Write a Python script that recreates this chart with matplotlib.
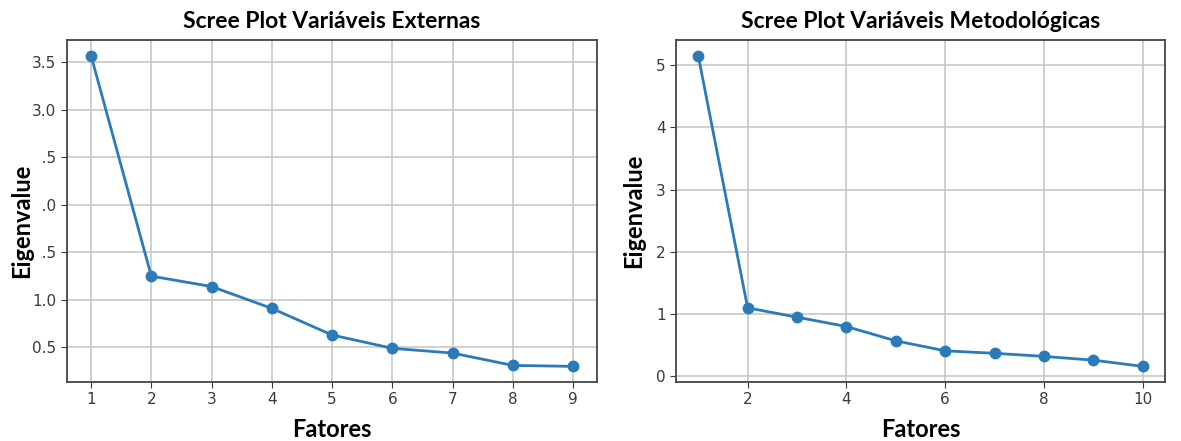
import matplotlib
matplotlib.use("Agg")
import matplotlib.pyplot as plt
from matplotlib.patches import Rectangle

# eigenvalues per factor
fatores_ext = [1, 2, 3, 4, 5, 6, 7, 8, 9]
eig_ext = [3.57, 1.25, 1.14, 0.91, 0.63, 0.49, 0.44, 0.31, 0.30]

fatores_met = [1, 2, 3, 4, 5, 6, 7, 8, 9, 10]
eig_met = [5.15, 1.10, 0.95, 0.80, 0.57, 0.41, 0.37, 0.32, 0.26, 0.16]

titles = ["Scree Plot Variáveis Externas", "Scree Plot Variáveis Metodológicas"]

LABEL_FONT = dict(family="Lato", fontweight="bold", color="black")
LINE_COLOR = "#2b7bba"
W, H = 1181, 441

fig = plt.figure(figsize=(W / 100, H / 100), dpi=100)
ax1 = fig.add_axes([0.0567, 0.134, 0.449, 0.775])
ax2 = fig.add_axes([0.5724, 0.134, 0.4140, 0.775])

for ax, xs, ys, title in [(ax1, fatores_ext, eig_ext, titles[0]),
                          (ax2, fatores_met, eig_met, titles[1])]:
    ax.plot(xs, ys, color=LINE_COLOR, lw=2, marker="o", ms=7.5)
    ax.grid(color="#c8c8c8", lw=1.2)
    ax.set_axisbelow(True)
    ax.tick_params(labelsize=11, colors="#3a3a3a", length=4)
    for s in ax.spines.values():
        s.set_color("#444444")
        s.set_linewidth(1.3)
    ax.set_title(title, fontsize=16.5, pad=9, **LABEL_FONT)
    ax.set_xlabel("Fatores", fontsize=17, labelpad=8, **LABEL_FONT)

ax1.set_xticks(fatores_ext)
ax2.set_xticks([2, 4, 6, 8, 10])
ax1.set_yticks([0.5, 1.0, 1.5, 2.0, 2.5, 3.0, 3.5])

# left label sits over part of the tick labels on a white block
fig.patches.append(Rectangle((4 / W, 1 - 290 / H), 37 / W, 160 / H, transform=fig.transFigure,
                             facecolor="white", edgecolor="none", zorder=3))
fig.text(22 / W, 1 - 221 / H, "Eigenvalue", rotation=90, ha="center", va="center",
         fontsize=17, zorder=4, **LABEL_FONT)
ax2.set_ylabel("Eigenvalue", fontsize=17, labelpad=8, **LABEL_FONT)

fig.savefig("out.png", dpi=100)
